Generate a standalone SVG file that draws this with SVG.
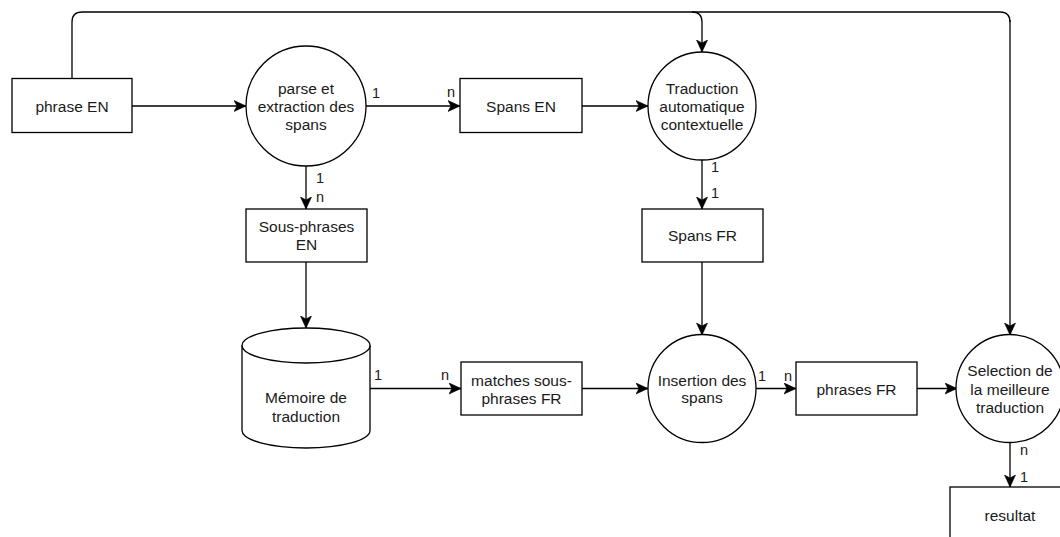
<svg xmlns="http://www.w3.org/2000/svg" width="1060" height="537" viewBox="0 0 1060 537">
  <style>
    .box { fill: #ffffff; stroke: #000000; stroke-width: 1.3; }
    .edge { fill: none; stroke: #000000; stroke-width: 1.3; marker-end: url(#arrow); }
    .plain { fill: none; stroke: #000000; stroke-width: 1.3; }
    .lbl { font-family: "Liberation Sans", Arial, Helvetica, sans-serif; font-size: 15.5px; fill: #1a1a1a; text-anchor: middle; }
    .card { font-family: "Liberation Sans", Arial, Helvetica, sans-serif; font-size: 14.5px; fill: #1a1a1a; }
  </style>
  <defs>
    <marker id="arrow" markerUnits="userSpaceOnUse" markerWidth="14" markerHeight="12" refX="12" refY="6" orient="auto">
      <path d="M0,0.5 L12,6 L0,11.5 L3,6 Z" fill="#000000" stroke="#000000" stroke-width="0.6"/>
    </marker>
  </defs>
  <rect width="1060" height="537" fill="#ffffff"/>

  <!-- connectors -->
  <g id="connectors">
    <!-- phrase EN feed over the top -->
    <path class="plain" d="M72,78.5 V22 Q72,12 82,12 H1000 Q1010,12 1010,22"/>
    <path class="edge" d="M692,12 Q702,12 702,22 V52"/>
    <path class="edge" d="M1010,20 V335"/>
    <path class="edge" d="M132,106 H246"/>
    <path class="edge" d="M366,106 H460"/>
    <path class="edge" d="M582,106 H648"/>
    <path class="edge" d="M306,166 V209"/>
    <path class="edge" d="M702,160 V209"/>
    <path class="edge" d="M306,262 V328"/>
    <path class="edge" d="M702,262 V335"/>
    <path class="edge" d="M370,388.5 H461"/>
    <path class="edge" d="M582,388.5 H648"/>
    <path class="edge" d="M756,388.5 H796"/>
    <path class="edge" d="M917,388.5 H957"/>
    <path class="edge" d="M1010,442 V487"/>
    <!-- cardinalities -->
    <text class="card" x="372" y="98">1</text>
    <text class="card" x="447" y="97">n</text>
    <text class="card" x="316" y="183">1</text>
    <text class="card" x="316" y="202">n</text>
    <text class="card" x="711" y="172">1</text>
    <text class="card" x="711" y="198">1</text>
    <text class="card" x="374" y="380">1</text>
    <text class="card" x="441" y="380">n</text>
    <text class="card" x="758" y="381">1</text>
    <text class="card" x="784" y="381">n</text>
    <text class="card" x="1020" y="455">n</text>
    <text class="card" x="1020" y="482">1</text>
  </g>

  <g id="phrase-en">
    <rect class="box" x="12" y="78.5" width="120" height="54"/>
    <text class="lbl" x="72" y="111.5">phrase EN</text>
  </g>

  <g id="parse">
    <circle class="box" cx="306" cy="106" r="60"/>
    <text class="lbl" x="306" y="93.5">parse et</text>
    <text class="lbl" x="306" y="111.5">extraction des</text>
    <text class="lbl" x="306" y="129.5">spans</text>
  </g>

  <g id="spans-en">
    <rect class="box" x="460" y="78.5" width="122" height="54"/>
    <text class="lbl" x="521" y="111.5">Spans EN</text>
  </g>

  <g id="traduction">
    <circle class="box" cx="702" cy="106" r="54"/>
    <text class="lbl" x="702" y="93.5">Traduction</text>
    <text class="lbl" x="702" y="111.5">automatique</text>
    <text class="lbl" x="702" y="129.5">contextuelle</text>
  </g>

  <g id="sous-phrases-en">
    <rect class="box" x="246" y="209" width="121" height="53"/>
    <text class="lbl" x="306.5" y="232">Sous-phrases</text>
    <text class="lbl" x="306.5" y="250">EN</text>
  </g>

  <g id="spans-fr">
    <rect class="box" x="642" y="209" width="121" height="53"/>
    <text class="lbl" x="702.5" y="241">Spans FR</text>
  </g>

  <g id="memoire">
    <path class="box" d="M242,345.5 A64,17.5 0 0 1 370,345.5 V430.5 A64,17.5 0 0 1 242,430.5 Z"/>
    <path class="plain" d="M242,345.5 A64,17.5 0 0 0 370,345.5"/>
    <text class="lbl" x="306" y="403">Mémoire de</text>
    <text class="lbl" x="306" y="421.5">traduction</text>
  </g>

  <g id="matches">
    <rect class="box" x="461" y="362" width="121" height="53"/>
    <text class="lbl" x="521.5" y="386">matches sous-</text>
    <text class="lbl" x="521.5" y="404">phrases FR</text>
  </g>

  <g id="insertion">
    <circle class="box" cx="702" cy="388.5" r="54"/>
    <text class="lbl" x="702" y="385.5">Insertion des</text>
    <text class="lbl" x="702" y="403">spans</text>
  </g>

  <g id="phrases-fr">
    <rect class="box" x="796" y="362" width="121" height="53"/>
    <text class="lbl" x="856.5" y="394.5">phrases FR</text>
  </g>

  <g id="selection">
    <circle class="box" cx="1010" cy="388.5" r="54"/>
    <text class="lbl" x="1010" y="376">Selection de</text>
    <text class="lbl" x="1010" y="394.5">la meilleure</text>
    <text class="lbl" x="1010" y="413">traduction</text>
  </g>

  <g id="resultat">
    <rect class="box" x="950" y="487" width="121" height="60"/>
    <text class="lbl" x="1010" y="521">resultat</text>
  </g>
</svg>
